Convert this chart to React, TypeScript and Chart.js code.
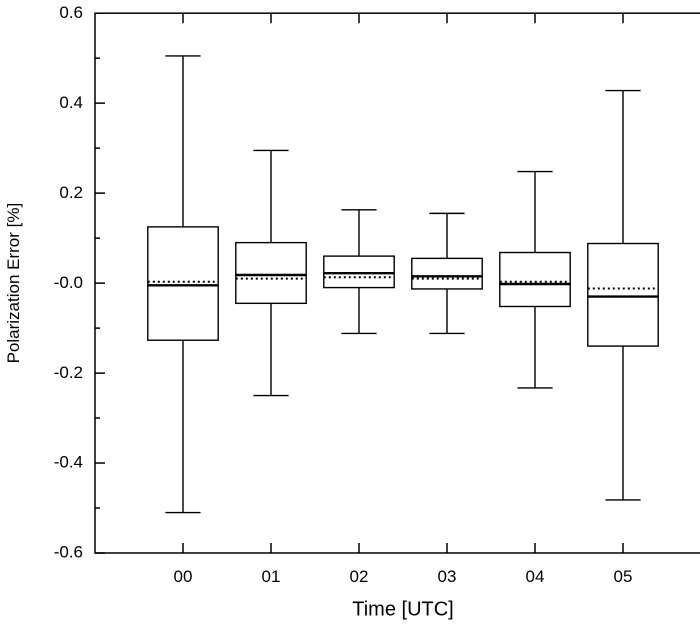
import React, { useEffect, useRef } from 'react';
import { Chart, registerables } from 'chart.js';

Chart.register(...registerables);

const categories = ['00', '01', '02', '03', '04', '05'];
const whiskerHigh = [0.505, 0.295, 0.163, 0.155, 0.248, 0.428];
const whiskerLow = [-0.51, -0.25, -0.112, -0.112, -0.233, -0.482];
const boxHigh = [0.125, 0.09, 0.06, 0.055, 0.068, 0.088];
const boxLow = [-0.127, -0.045, -0.01, -0.013, -0.052, -0.14];
const medians = [-0.005, 0.018, 0.022, 0.015, -0.002, -0.03];
const means = [0.003, 0.01, 0.013, 0.01, 0.003, -0.012];
const yTicks = [-0.6, -0.4, -0.2, 0.0, 0.2, 0.4, 0.6];

const FONT = 'Liberation Sans, Arial, sans-serif';

const boxPlugin = {
  id: 'boxDraw',
  afterDraw(chart: any) {
    const { ctx, chartArea: a } = chart;
    const xs = chart.scales.x;
    const ys = chart.scales.y;
    ctx.save();
    ctx.strokeStyle = '#000';
    ctx.lineWidth = 1.5;
    // frame
    ctx.strokeRect(a.left, a.top, a.right - a.left, a.bottom - a.top);
    // y ticks inward (major 0.2, minor 0.1)
    for (let v = -0.6; v <= 0.6001; v += 0.1) {
      const y = ys.getPixelForValue(v);
      const major = Math.abs(Math.round(v * 10)) % 2 === 0;
      const len = major ? 10 : 5;
      ctx.beginPath();
      ctx.moveTo(a.left, y); ctx.lineTo(a.left + len, y);
      ctx.moveTo(a.right, y); ctx.lineTo(a.right - len, y);
      ctx.stroke();
    }
    // x ticks inward
    categories.forEach((_, i) => {
      const x = xs.getPixelForValue(i);
      ctx.beginPath();
      ctx.moveTo(x, a.bottom); ctx.lineTo(x, a.bottom - 10);
      ctx.moveTo(x, a.top); ctx.lineTo(x, a.top + 10);
      ctx.stroke();
    });
    // boxes
    categories.forEach((_, i) => {
      const xc = xs.getPixelForValue(i);
      const half = xs.getPixelForValue(i + 0.4) - xc;
      const cap = xs.getPixelForValue(i + 0.2) - xc;
      const yH = ys.getPixelForValue(whiskerHigh[i]);
      const yL = ys.getPixelForValue(whiskerLow[i]);
      const bH = ys.getPixelForValue(boxHigh[i]);
      const bL = ys.getPixelForValue(boxLow[i]);
      ctx.lineWidth = 1.4;
      ctx.setLineDash([]);
      ctx.strokeRect(xc - half, bH, 2 * half, bL - bH);
      ctx.beginPath();
      ctx.moveTo(xc, bH); ctx.lineTo(xc, yH);
      ctx.moveTo(xc - cap, yH); ctx.lineTo(xc + cap, yH);
      ctx.moveTo(xc, bL); ctx.lineTo(xc, yL);
      ctx.moveTo(xc - cap, yL); ctx.lineTo(xc + cap, yL);
      ctx.stroke();
      ctx.lineWidth = 2.4;
      ctx.beginPath();
      const ym = ys.getPixelForValue(medians[i]);
      ctx.moveTo(xc - half, ym); ctx.lineTo(xc + half, ym);
      ctx.stroke();
      ctx.lineWidth = 2;
      ctx.setLineDash([2, 3]);
      ctx.beginPath();
      const ya = ys.getPixelForValue(means[i]);
      ctx.moveTo(xc - half, ya); ctx.lineTo(xc + half, ya);
      ctx.stroke();
    });
    ctx.restore();
  },
};

const App: React.FC = () => {
  const canvasRef = useRef<HTMLCanvasElement>(null);

  useEffect(() => {
    if (!canvasRef.current) return;
    const chart = new Chart(canvasRef.current, {
      type: 'scatter',
      data: { datasets: [{ data: [], showLine: false }] },
      options: {
        animation: false,
        responsive: false,
        devicePixelRatio: 2,
        layout: { padding: { top: 2, right: 9, left: 0, bottom: 0 } },
        plugins: { legend: { display: false }, tooltip: { enabled: false } },
        scales: {
          x: {
            type: 'linear',
            min: -1,
            max: 6,
            afterBuildTicks: (s: any) => { s.ticks = categories.map((_, i) => ({ value: i })); },
            afterFit: (s: any) => { s.height = 73; },
            grid: { display: false, drawTicks: false },
            border: { display: false },
            ticks: {
              padding: 14,
              color: '#000',
              font: { size: 17, family: FONT },
              callback: (v: any) => categories[v] ?? '',
            },
            title: { display: true, text: 'Time [UTC]', color: '#000', font: { size: 20, family: FONT }, padding: { top: 2 } },
          },
          y: {
            min: -0.6,
            max: 0.6,
            afterBuildTicks: (s: any) => { s.ticks = yTicks.map((v) => ({ value: v })); },
            afterFit: (s: any) => { s.width = 95; },
            grid: { display: false, drawTicks: false },
            border: { display: false },
            ticks: {
              padding: 12,
              color: '#000',
              font: { size: 17, family: FONT },
              callback: (v: any) => (Math.abs(v) < 1e-9 ? '-0.0' : Number(v).toFixed(1)),
            },
            title: { display: true, text: 'Polarization Error [%]', color: '#000', font: { size: 17, family: FONT }, padding: { bottom: 2 } },
          },
        },
      },
      plugins: [boxPlugin],
    });
    return () => chart.destroy();
  }, []);

  return (
    <div style={{ position: 'fixed', left: 0, top: 0, width: 700, height: 626, overflow: 'hidden', background: '#fff' }}>
      <canvas
        ref={canvasRef}
        width={720}
        height={635}
        style={{ position: 'absolute', left: 0, top: -9, width: 720, height: 635 }}
      />
    </div>
  );
};

export default App;
